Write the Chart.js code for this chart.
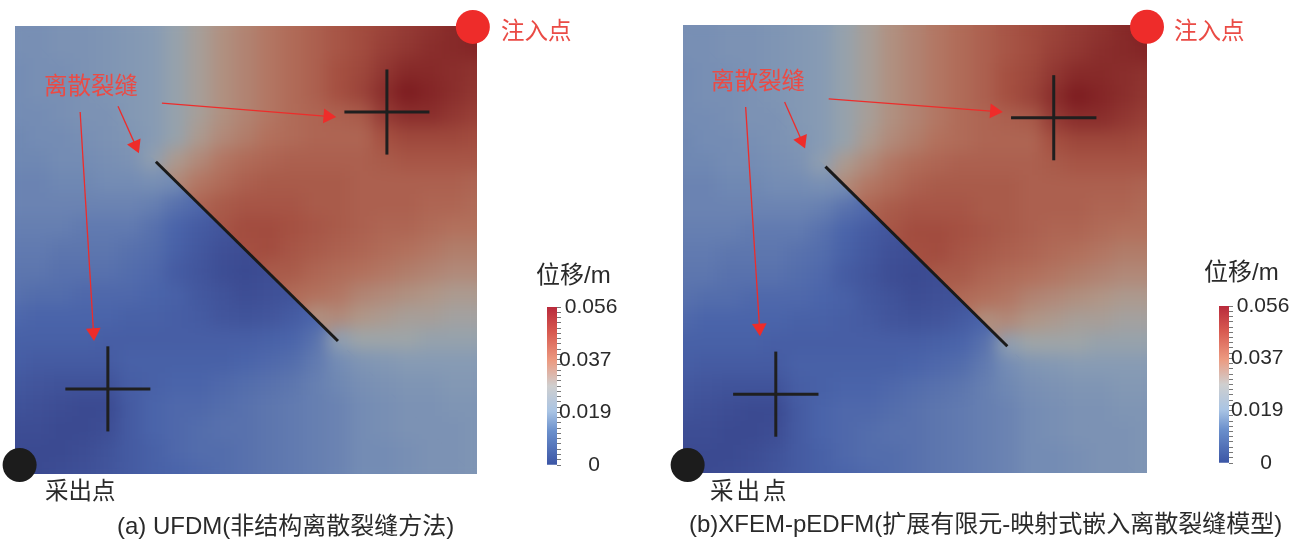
<!DOCTYPE html>
<html>
<head>
<meta charset="utf-8">
<script src="https://cdn.jsdelivr.net/npm/chart.js@4"></script>
<style>
  html, body { margin: 0; background: #fff; }
  body { position: relative; width: 1298px; height: 540px; overflow: hidden; font-family: "Liberation Sans", "Noto Sans CJK SC", sans-serif; }
  canvas { position: absolute; }
  .t { position: absolute; white-space: nowrap; font-size: 24px; line-height: 30px; color: #2a2a2a; transform: translateY(-50%); }
  .r { color: #ea4b45; font-size: 23.5px; }
</style>
</head>
<body>
<canvas id="panelA" width="649" height="540" style="left:0;top:0"></canvas>
<canvas id="panelB" width="649" height="540" style="left:649px;top:0"></canvas>
<canvas id="barA" width="97" height="200" style="left:530px;top:290px"></canvas>
<canvas id="barB" width="97" height="200" style="left:1202px;top:290px"></canvas>

<div class="t r" style="left:501px;top:31px">注入点</div>
<div class="t r" style="left:44px;top:86px">离散裂缝</div>
<div class="t" style="left:45px;top:491px;font-size:23.5px">采出点</div>
<div class="t" style="left:536px;top:275px">位移/m</div>
<div class="t" style="left:117px;top:526px">(a) UFDM(非结构离散裂缝方法)</div>

<div class="t r" style="left:1174px;top:31px">注入点</div>
<div class="t r" style="left:711px;top:81px">离散裂缝</div>
<div class="t" style="left:710px;top:491px;font-size:23.5px;letter-spacing:3px">采出点</div>
<div class="t" style="left:1204px;top:272px">位移/m</div>
<div class="t" style="left:689px;top:524px">(b)XFEM-pEDFM(扩展有限元-映射式嵌入离散裂缝模型)</div>

<script>
// displacement, in mm. rows go from the top edge down, columns left to right,
// nodes every 0.05 of the domain
const fieldRows = [
  [21,21,22,22,23,24,25,27,30,33,35,37,39,41,43,45,47,49,51,53,55],
  [21,21,22,22,23,24,25,27,30,33,35,37,39,41,43,45,48,50,52,53,54],
  [20,21,21,22,23,24,25,27,30,33,35,37,39,41,44,46,50,53,53,52,51],
  [20,21,21,22,23,24,25,27,30,33,35,37,39,41,44,47,52,56,54,52,50],
  [20,20,21,22,22,24,25,27,30,33,35,37,39,40,41,42,49,52,52,50,48],
  [19,20,20,21,22,23,25,27,31,34,36,38,39,40,40,40,44,46,46,46,45],
  [19,19,20,20,21,22,26,31,34,37,39,40,41,41,41,41,42,43,43,43,43],
  [18,18,19,19,20,20,21,34,37,39,41,42,42,42,42,41,41,41,41,41,40],
  [18,18,18,18,18,18,17,14,40,42,43,43,43,42,42,41,41,41,40,40,39],
  [17,17,17,16,16,16,14,11,8,43,45,45,44,43,42,41,40,40,39,38,38],
  [16,16,15,15,15,14,13,10,7,4,44,45,43,42,41,40,39,38,37,36,36],
  [15,15,14,14,14,13,12,8,6,3,2,42,42,40,39,38,37,36,35,34,34],
  [14,13,13,12,12,12,11,10,7,5,3,4,39,38,37,35,34,33,32,31,31],
  [12,11,11,11,11,10,10,9,8,6,5,6,8,33,34,32,31,30,30,29,29],
  [10,10,10,10,9,9,9,9,9,9,9,10,11,14,26,28,28,28,27,27,27],
  [9,8,8,8,8,10,10,10,10,10,11,12,13,16,20,23,24,25,25,25,25],
  [7,6,5,5,5,9,10,11,11,12,13,14,15,17,19,21,22,23,23,24,24],
  [5,4,3,2,2,8,11,12,12,13,14,15,16,17,18,20,21,22,22,23,23],
  [3,3,2,2,3,8,11,12,13,14,14,15,16,17,18,20,21,22,22,22,23],
  [2,2,2,3,5,8,10,12,13,13,14,15,16,17,18,20,20,21,22,22,23],
  [1,2,3,4,6,8,10,11,12,13,14,15,16,17,18,20,20,21,22,22,23],
];
// blue side of the fracture, for the nodes sitting right on it (row 7 to 13)
const lowerDiag = [20, 12, 6, 3, 3, 5, 11];

const fieldLevels = [0, 11, 20, 25, 28, 32, 38, 44, 50, 56];
const fieldColors = [
  [56,68,140],[74,100,170],[116,140,180],[135,155,180],[158,165,168],
  [176,150,135],[178,112,92],[165,80,65],[145,55,50],[125,28,32],
];

// colour bar
const barLabels = [0, 0.0187, 0.0373, 0.056];
const barTickValues = [
  0,0.0019,0.0037,0.0056,0.0075,0.0093,0.0112,0.0131,0.0149,0.0168,0.0187,
  0.0205,0.0224,0.0243,0.0261,0.028,0.0299,0.0317,0.0336,0.0355,0.0373,
  0.0392,0.0411,0.0429,0.0448,0.0467,0.0485,0.0504,0.0523,0.0541,0.056,
];
const barStops = [0, 0.012, 0.019, 0.028, 0.037, 0.047, 0.056];
const barColors = ["#3b55a5","#6b90cc","#a9c4e4","#cfcfcf","#ec9a80","#d85a50","#b92b3c"];

// annotations, in domain coordinates (0-1, y up)
const fractureA = [[0.305,0.697],[0.699,0.297]];
const fractureB = [[0.307,0.684],[0.699,0.283]];
const crossesA = [[0.805,0.808],[0.201,0.190]];
const crossesB = [[0.799,0.793],[0.200,0.176]];
const crossArm = [0.092,0.095];
const arrowsA = [
  [[0.318,0.828],[0.695,0.797]],
  [[0.223,0.821],[0.268,0.717]],
  [[0.141,0.808],[0.171,0.298]],
];
const arrowsB = [
  [[0.314,0.835],[0.689,0.806]],
  [[0.219,0.828],[0.263,0.725]],
  [[0.135,0.817],[0.166,0.306]],
];
const injectionA = [0.991,0.998];
const injectionB = [1.0,0.996];
const productionA = [0.01,0.02];
const productionB = [0.01,0.018];

function fieldColor(v) {
  let i = 0;
  while (i < fieldLevels.length - 2 && v > fieldLevels[i + 1]) i++;
  const f = Math.min(1, Math.max(0, (v - fieldLevels[i]) / (fieldLevels[i + 1] - fieldLevels[i])));
  const c = fieldColors[i].map((a, k) => Math.round(a + (fieldColors[i + 1][k] - a) * f));
  return "rgb(" + c.join(",") + ")";
}

// nodes of one side of the fracture. nodes past the fracture, inside its span, are only padding
// for the blur: they take the value across the line and get clipped away later
function fieldCells(side, shift) {
  const pts = [];
  for (let row = 0; row < 21; row++) {
    for (let col = 0; col < 21; col++) {
      let v = fieldRows[row][col];
      if (Math.abs(col + row - 20) <= 7) {
        if (col === row) {
          if (side === "lower") v = lowerDiag[row - 7];
        } else if ((side === "upper") !== (col > row)) {
          v = fieldRows[col][row];
        }
      }
      pts.push({ x: col / 20, y: 1 - row / 20 + shift, v: v });
    }
  }
  return pts;
}

function fieldDataset(side, shift, edge, order) {
  const cells = fieldCells(side, shift);
  return {
    data: cells,
    fieldSide: side,
    fieldEdge: edge,
    order: order,
    clip: false,
    pointStyle: "rect",
    pointRadius: 17,
    pointBorderWidth: 0,
    backgroundColor: cells.map((c) => fieldColor(c.v)),
  };
}

function lineDataset(points, color, width) {
  return {
    data: points.map((p) => ({ x: p[0], y: p[1] })),
    showLine: true,
    borderColor: color,
    borderWidth: width,
    pointRadius: 0,
    tension: 0,
    order: 1,
  };
}

function arrowDataset(arrow) {
  const dx = arrow[1][0] - arrow[0][0];
  const dy = arrow[1][1] - arrow[0][1];
  const len = Math.hypot(dx, dy);
  const head = [arrow[1][0] - (dx / len) * 0.018, arrow[1][1] - (dy / len) * 0.018];
  const ds = lineDataset([arrow[0], head], "#ee2c2a", 1.3);
  ds.pointStyle = "triangle";
  ds.pointRadius = [0, 8.5];
  ds.pointRotation = [0, (Math.atan2(dx, dy) * 180) / Math.PI];
  ds.pointBackgroundColor = "#ee2c2a";
  ds.pointBorderWidth = 0;
  return ds;
}

function dotDataset(p, color) {
  return {
    data: [{ x: p[0], y: p[1] }],
    pointRadius: 17,
    pointBackgroundColor: color,
    pointBorderWidth: 0,
    clip: false,
    order: 0,
  };
}

const smoothField = {
  id: "smoothField",
  afterDatasetDraw(chart, args) {
    const ds = chart.data.datasets[args.index];
    if (!ds.fieldSide) return;
    const snap = document.createElement("canvas");
    snap.width = chart.canvas.width;
    snap.height = chart.canvas.height;
    snap.getContext("2d").drawImage(chart.canvas, 0, 0);
    if (ds.fieldSide === "upper") {
      chart.$upperSnap = snap;
      return;
    }
    const ctx = chart.ctx;
    const area = chart.chartArea;
    const sx = chart.scales.x;
    const sy = chart.scales.y;
    const paint = (img) => {
      ctx.filter = "none";
      ctx.drawImage(img, 0, 0);
      ctx.filter = "blur(8px)";
      ctx.drawImage(img, 0, 0);
      ctx.filter = "none";
    };
    ctx.save();
    ctx.clearRect(0, 0, snap.width, snap.height);
    ctx.beginPath();
    ctx.rect(area.left, area.top, area.right - area.left, area.bottom - area.top);
    ctx.clip();
    paint(chart.$upperSnap);
    // lower left of the fracture line keeps its own field so the jump stays sharp
    const x1 = sx.getPixelForValue(ds.fieldEdge[0][0]);
    const y1 = sy.getPixelForValue(ds.fieldEdge[0][1]);
    const x2 = sx.getPixelForValue(ds.fieldEdge[1][0]);
    const y2 = sy.getPixelForValue(ds.fieldEdge[1][1]);
    const ux = (x2 - x1) / Math.hypot(x2 - x1, y2 - y1);
    const uy = (y2 - y1) / Math.hypot(x2 - x1, y2 - y1);
    ctx.beginPath();
    ctx.moveTo(x1 - ux * 2000, y1 - uy * 2000);
    ctx.lineTo(x2 + ux * 2000, y2 + uy * 2000);
    ctx.lineTo(x2 + ux * 2000 - uy * 3000, y2 + uy * 2000 + ux * 3000);
    ctx.lineTo(x1 - ux * 2000 - uy * 3000, y1 - uy * 2000 + ux * 3000);
    ctx.closePath();
    ctx.clip();
    paint(snap);
    ctx.restore();
  },
};

function newPanel(id, padding, shift, fracture, crosses, arrows, injection, production) {
  const datasets = [
    fieldDataset("upper", shift, fracture, 11),
    fieldDataset("lower", shift, fracture, 10),
    lineDataset(fracture, "#1a1a1a", 3),
  ];
  crosses.forEach((c) => {
    datasets.push(lineDataset([[c[0] - crossArm[0], c[1]], [c[0] + crossArm[0], c[1]]], "#1f1f1f", 3));
    datasets.push(lineDataset([[c[0], c[1] - crossArm[1]], [c[0], c[1] + crossArm[1]]], "#1f1f1f", 3));
  });
  arrows.forEach((a) => datasets.push(arrowDataset(a)));
  datasets.push(dotDataset(injection, "#ee2c2a"));
  datasets.push(dotDataset(production, "#1c1c1c"));
  new Chart(id, {
    type: "scatter",
    data: { datasets: datasets },
    plugins: [smoothField],
    options: {
      responsive: false,
      animation: false,
      events: [],
      layout: { padding: padding, autoPadding: false },
      plugins: { legend: { display: false }, tooltip: { enabled: false } },
      scales: {
        x: { type: "linear", min: 0, max: 1, display: false },
        y: { type: "linear", min: 0, max: 1, display: false },
      },
    },
  });
}

function barGradient(context) {
  const chart = context.chart;
  if (!chart.chartArea) return barColors[0];
  const y = chart.scales.y;
  const g = chart.ctx.createLinearGradient(0, y.getPixelForValue(0), 0, y.getPixelForValue(0.056));
  barStops.forEach((s, i) => g.addColorStop(s / 0.056, barColors[i]));
  return g;
}

function newColorBar(id, padding) {
  new Chart(id, {
    type: "bar",
    data: {
      labels: [""],
      datasets: [{ data: [[0, 0.056]], backgroundColor: barGradient, barPercentage: 1, categoryPercentage: 1, borderSkipped: false }],
    },
    options: {
      responsive: false,
      animation: false,
      events: [],
      layout: { padding: padding },
      plugins: { legend: { display: false }, tooltip: { enabled: false } },
      scales: {
        x: { display: false },
        y: {
          position: "right",
          min: 0,
          max: 0.056,
          border: { display: false },
          grid: { drawOnChartArea: false, tickLength: 4, tickColor: "#777", tickWidth: 1 },
          afterBuildTicks: (axis) => {
            axis.ticks = barTickValues.map((v) => ({ value: v }));
          },
          afterFit: (axis) => {
            axis.width = 70;
          },
          ticks: {
            autoSkip: false,
            maxRotation: 0,
            padding: -2,
            color: "#2a2a2a",
            font: { family: "Liberation Sans", size: 21 },
            callback: (v) => {
              if (!barLabels.includes(v)) return "";
              if (v === 0) return "     0";
              const s = v.toFixed(3);
              return v === 0.056 ? " " + s : s;
            },
          },
        },
      },
    },
  });
}

newPanel("panelA", { left: 15, right: 172, top: 26, bottom: 66 }, 0, fractureA, crossesA, arrowsA, injectionA, productionA);
newPanel("panelB", { left: 34, right: 151, top: 25, bottom: 67 }, -0.012, fractureB, crossesB, arrowsB, injectionB, productionB);
newColorBar("barA", { left: 17, right: 0, top: 17, bottom: 25 });
newColorBar("barB", { left: 17, right: 0, top: 16, bottom: 27 });
</script>
</body>
</html>
